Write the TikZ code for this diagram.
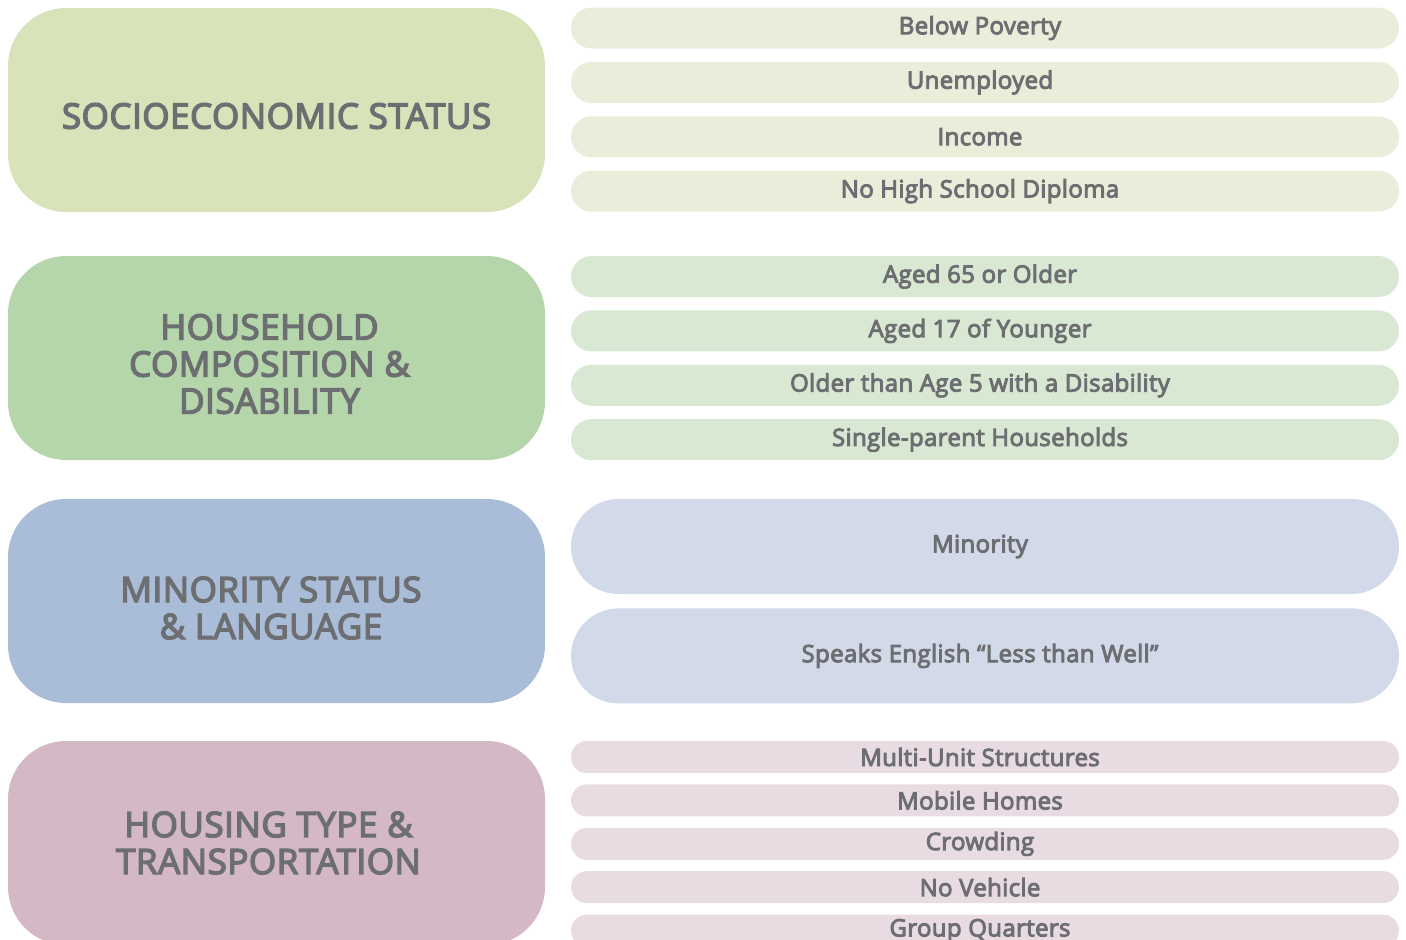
\documentclass[tikz,border=0pt]{standalone}
\usepackage{fontspec}
\setmainfont{Open Sans}[BoldFont={Open Sans},
	BoldFeatures={FakeBold=4,LetterSpace=1.5}]
\usetikzlibrary{positioning,shapes.misc}

\definecolor{textgray}{HTML}{6D6E71}
\definecolor{seBig}{HTML}{D9E3B9}
\definecolor{sePill}{HTML}{E8EEDA}
\definecolor{hcBig}{HTML}{B5D6AA}
\definecolor{hcPill}{HTML}{D8E8D3}
\definecolor{msBig}{HTML}{A9BCD8}
\definecolor{msPill}{HTML}{D2D9E8}
\definecolor{htBig}{HTML}{D4B8C5}
\definecolor{htPill}{HTML}{E8DCE2}

\begin{document}
\begin{tikzpicture}[x=1pt,y=-1pt,
		every node/.style={text=textgray,font=\bfseries},
		theme/.style={shape=rectangle,rounded corners=58pt,minimum width=537pt,
			minimum height=204pt,inner sep=0pt},
		themetext/.style={align=center,inner sep=0pt,
			font=\bfseries\fontsize{35}{37}\selectfont},
		pill/.style={shape=rounded rectangle,minimum width=828pt,inner sep=0pt,
			font=\bfseries\fontsize{24}{26}\selectfont,
			execute at end node=\hspace*{10pt}},
		small/.style={pill,minimum height=41pt},
		tall/.style={pill,minimum height=95pt},
		thin/.style={pill,minimum height=32pt}]
		\useasboundingbox (0,0) rectangle (1406,940);

		% create the theme boxes
		\node (socio) [theme,fill=seBig,label={[themetext,yshift=-6pt]center:
			SOCIOECONOMIC STATUS}] at (276.5,110) {};
		\node (household) [theme,fill=hcBig,label={[themetext,xshift=-7pt,
			yshift=-6pt]center:HOUSEHOLD\\ COMPOSITION \&\\ DISABILITY}] 
		at (276.5,358) {};
		\node (minority) [theme,fill=msBig,label={[themetext,xshift=-5.5pt,
			yshift=-7pt]center:MINORITY STATUS\\ \& LANGUAGE}] at (276.5,601) {};
		\node (housing) [theme,fill=htBig,label={[themetext,xshift=-8pt]center:
			HOUSING TYPE \&\\ TRANSPORTATION}] at (276.5,843) {};

		% create the variables
		\node (poverty) [small,fill=sePill] at (985,28) {Below Poverty};
		\node (unemployed) [small,fill=sePill,below=13pt of poverty] {Unemployed};
		\node (income) [small,fill=sePill,below=13pt of unemployed] {Income};
		\node (diploma) [small,fill=sePill,below=13pt of income] {No High School 
			Diploma};

		\node (aged65) [small,fill=hcPill] at (985,276.5) {Aged 65 or Older};
		\node (aged17) [small,fill=hcPill,below=13pt of aged65] {Aged 17 of 
			Younger};
		\node (disability) [small,fill=hcPill,below=13pt of aged17] {Older than 
			Age 5 with a Disability};
		\node (singleparent) [small,fill=hcPill,below=13pt of disability] 
		{Single-parent Households};

		\node (minorityvar) [tall,fill=msPill] at (985,546.5) {Minority};
		\node (english) [tall,fill=msPill,below=14pt of minorityvar] {Speaks 
			English “Less than Well”};

		\node (multiunit) [thin,fill=htPill] at (985,757) {Multi-Unit Structures};
		\node (mobile) [thin,fill=htPill,below=11pt of multiunit] {Mobile Homes};
		\node (crowding) [thin,fill=htPill,below=11pt of mobile] {Crowding};
		\node (vehicle) [thin,fill=htPill,below=11pt of crowding] {No Vehicle};
		\node (quarters) [thin,fill=htPill,below=11pt of vehicle] {Group 
			Quarters};

	\end{tikzpicture}
\end{document}
